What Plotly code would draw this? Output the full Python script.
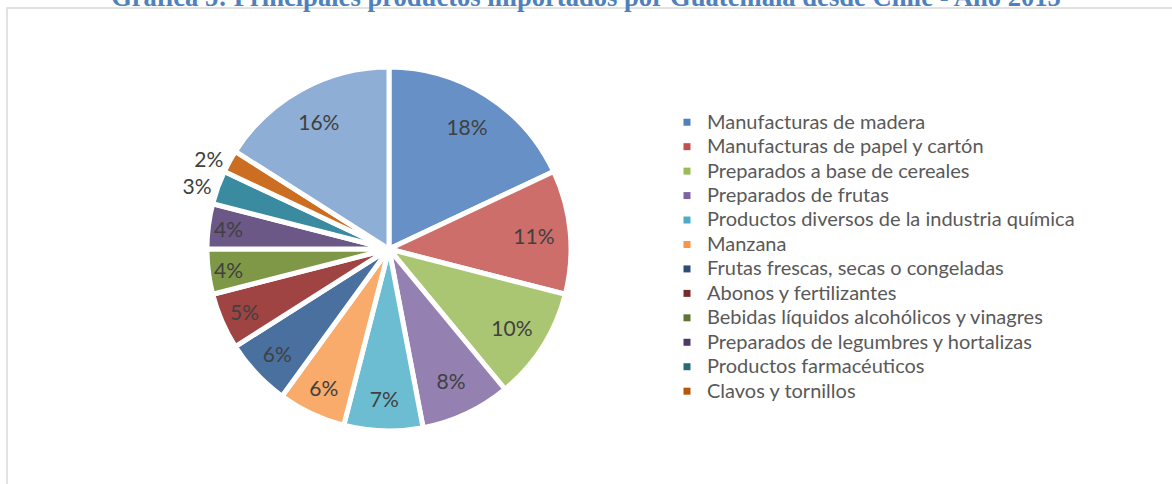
import plotly.graph_objects as go

categories = [
    "Manufacturas de madera",
    "Manufacturas de papel y cartón",
    "Preparados a base de cereales",
    "Preparados de frutas",
    "Productos diversos de la industria química",
    "Manzana",
    "Frutas frescas, secas o congeladas",
    "Abonos y fertilizantes",
    "Bebidas líquidos alcohólicos y vinagres",
    "Preparados de legumbres y hortalizas",
    "Productos farmacéuticos",
    "Clavos y tornillos",
    "Otros",
]
values = [18, 11, 10, 8, 7, 6, 6, 5, 4, 4, 3, 2, 16]
colors = [
    "#6690C6", "#CD6E6B", "#AAC672", "#9580B2", "#6CBDD1", "#F8AB6A",
    "#4A70A0", "#9F4442", "#7E9848", "#6B5886", "#3A8AA0", "#CC6E22",
    "#8EAED6",
]
legend_colors = [
    "#4F81BD", "#C0504D", "#9BBB59", "#8064A2", "#4BACC6", "#F79646",
    "#2C4D75", "#772C2A", "#5F7530", "#4D3B62", "#276A7C", "#B65708",
]
outside_labels = {"Productos farmacéuticos", "Clavos y tornillos"}
text_positions = ["outside" if c in outside_labels else "inside" for c in categories]

title = "Gráfica 5: Principales productos importados por Guatemala desde Chile - Año 2015"

W, H = 1172, 484
cx, cy, r = 389, 249, 182
domain = dict(x=[(cx - r) / W, (cx + r) / W],
              y=[(H - cy - r) / H, (H - cy + r) / H])

fig = go.Figure()
# coloured slices
fig.add_trace(go.Pie(
    labels=categories,
    values=values,
    sort=False,
    direction="clockwise",
    rotation=0,
    marker=dict(colors=colors, line=dict(color="white", width=5)),
    textinfo="none",
    showlegend=False,
    hoverinfo="label+percent",
    domain=domain,
))
# percentage labels (ring placement keeps them towards the rim)
fig.add_trace(go.Pie(
    labels=categories,
    values=values,
    sort=False,
    direction="clockwise",
    rotation=0,
    hole=0.6,
    marker=dict(colors=["rgba(0,0,0,0)"] * len(values), line=dict(width=0)),
    texttemplate="%{percent:.0%}",
    textposition=text_positions,
    insidetextorientation="horizontal",
    textfont=dict(family="Lato", size=21, color="#404040"),
    showlegend=False,
    hoverinfo="skip",
    domain=domain,
))

for i, (name, col) in enumerate(zip(categories[:12], legend_colors)):
    fig.add_trace(go.Scatter(
        x=[None], y=[None], mode="markers",
        name=f'<span style="font-size:20px">{name}</span>',
        marker=dict(symbol="square", size=7, color=col),
        legendgroup=f"g{i}", showlegend=True,
    ))

fig.update_layout(
    width=W, height=H,
    margin=dict(l=0, r=0, t=0, b=0),
    paper_bgcolor="white",
    plot_bgcolor="white",
    xaxis=dict(visible=False),
    yaxis=dict(visible=False),
    title=dict(
        text=f"<b>{title}</b>",
        font=dict(family="Liberation Serif", size=26.6, color="#4F81BD"),
        x=0.5, xanchor="center",
        y=1 - 6 / H, yanchor="bottom", yref="container",
    ),
    legend=dict(
        x=667 / W, xanchor="left",
        y=1 - 105 / H, yanchor="top",
        font=dict(family="Lato", size=16.5, color="#595959"),
        tracegroupgap=0,
        itemwidth=30,
        bgcolor="rgba(0,0,0,0)",
    ),
    shapes=[dict(
        type="rect", xref="paper", yref="paper",
        x0=7 / W, x1=1.02, y0=-0.05, y1=1 - 8 / H,
        line=dict(color="#D9D9D9", width=1.5),
        fillcolor="rgba(0,0,0,0)", layer="below",
    )],
)

fig.write_html(
    "out.html",
    config={"displayModeBar": False},
    post_script="document.body.style.margin='0px';",
)
